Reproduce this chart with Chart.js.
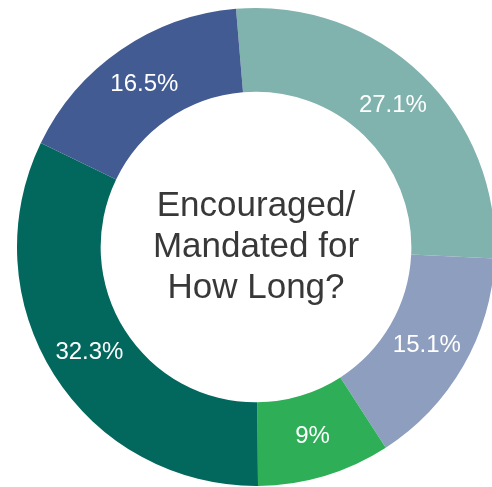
<!DOCTYPE html>
<html>
<head>
<meta charset="utf-8">
<script src="https://cdn.jsdelivr.net/npm/chart.js@4/dist/chart.umd.min.js"></script>
<style>
  html, body { margin: 0; padding: 0; background: #fff; overflow: hidden; }
  #wrap { position: absolute; left: 0; top: 0; width: 512px; height: 494px; }
</style>
</head>
<body>
<div id="wrap"><canvas id="myChart1" width="512" height="494"></canvas></div>
<script>
// share of responses, clockwise from the top
var etiquetas = ['A', 'B', 'C', 'D', 'E'];
var porcentajes = [27.1, 15.1, 9, 32.3, 16.5];
var colores = ['#80b3ae', '#8d9ebf', '#2eae57', '#02685e', '#425c93'];
var titulo = ['Encouraged/', 'Mandated for', 'How Long?'];

// white percentage in the middle of each ring segment
var etiquetasArco = {
	id: 'etiquetasArco',
	afterDatasetsDraw: function(chart) {
		var ctx = chart.ctx;
		var meta = chart.getDatasetMeta(0);
		ctx.save();
		ctx.fillStyle = '#fff';
		ctx.font = '24px "Liberation Sans", Arial, sans-serif';
		ctx.textAlign = 'center';
		ctx.textBaseline = 'middle';
		meta.data.forEach(function(arc, i) {
			var p = arc.tooltipPosition();
			ctx.fillText(porcentajes[i] + '%', p.x, p.y);
		});
		ctx.restore();
	}
};

// question text inside the hole
var textoCentro = {
	id: 'textoCentro',
	afterDraw: function(chart) {
		var ctx = chart.ctx;
		var arc = chart.getDatasetMeta(0).data[0];
		var x = arc.x, y = arc.y;
		var alto = 41;
		ctx.save();
		ctx.fillStyle = '#383838';
		ctx.font = '35px "Liberation Sans", Arial, sans-serif';
		ctx.textAlign = 'center';
		ctx.textBaseline = 'middle';
		for (var i = 0; i < titulo.length; i++) {
			ctx.fillText(titulo[i], x, y + (i - 1) * alto);
		}
		ctx.restore();
	}
};

var myChart1 = document.getElementById('myChart1').getContext('2d');
var grafico = new Chart(myChart1, {
	type: 'doughnut',
	data: {
		labels: etiquetas,
		datasets: [{
			data: porcentajes,
			backgroundColor: colores,
			borderWidth: 0
		}]
	},
	options: {
		responsive: false,
		animation: false,
		cutout: '65%',
		rotation: -4.8,
		layout: { padding: { top: 8, bottom: 8 } },
		plugins: {
			legend: { display: false },
			tooltip: { enabled: false }
		}
	},
	plugins: [etiquetasArco, textoCentro]
});
</script>
</body>
</html>
